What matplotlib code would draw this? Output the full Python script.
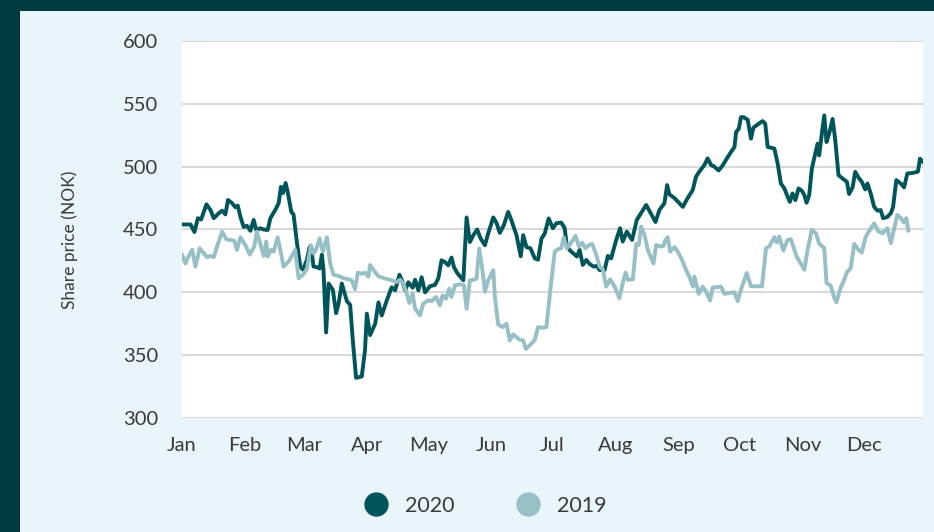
import matplotlib
matplotlib.use("Agg")
import matplotlib.pyplot as plt
from matplotlib.patches import Rectangle
from matplotlib.lines import Line2D

# day of year (0 = 1 Jan) and closing price
days_2020 = [0, 4.2, 6.1, 7.8, 9.4, 12.0, 14.0, 15.6, 18.1, 19.7, 21.3, 22.6, 24.6, 26.2, 27.4, 28.7,
             30.3, 31.9, 33.6, 35.2, 36.5, 38.5, 40.1, 42.1, 43.4, 45.8, 47.5, 48.6, 49.6, 50.9, 51.9,
             53.7, 54.8, 56.5, 58.1, 59.4, 61.4, 62.7, 63.8, 64.6, 66.3, 67.6, 68.7, 69.5, 70.8, 72.0,
             74.1, 75.7, 76.9, 78.5, 81.0, 82.6, 83.9, 85.5, 88.3, 89.9, 90.8, 92.4, 94.9, 96.5, 98.1,
             100.6, 103.0, 104.7, 106.8, 108.4, 109.6, 111.2, 113.3, 114.5, 116.1, 117.7, 119.4, 121.8,
             124.3, 125.9, 127.5, 129.2, 130.8, 132.4, 133.6, 135.2, 138.2, 139.8, 141.4, 143.1, 145.0,
             146.7, 148.8, 150.4, 152.9, 154.5, 156.1, 158.1, 160.2, 161.8, 164.3, 166.4, 167.6, 169.2,
             171.2, 173.3, 174.9, 176.6, 178.2, 180.1, 182.2, 183.9, 186.3, 188.0, 189.1, 191.2, 194.0,
             195.3, 196.9, 198.6, 200.2, 202.2, 203.8, 205.1, 207.6, 209.2, 210.8, 213.3, 215.2, 216.5,
             218.5, 221.1, 223.4, 225.5, 228.0, 229.9, 232.6, 234.5, 237.0, 238.3, 239.4, 241.9, 244.3,
             246.0, 248.4, 250.9, 252.5, 254.1, 256.6, 258.2, 259.9, 261.5, 263.6, 265.6, 267.6, 269.7,
             271.4, 272.2, 273.5, 274.6, 275.8, 277.9, 279.5, 280.7, 282.8, 285.2, 286.5, 287.7, 291.0,
             292.6, 294.2, 295.9, 297.5, 298.6, 299.9, 301.3, 302.9, 304.5, 305.7, 306.8, 308.1, 309.4,
             311.1, 312.2, 313.0, 314.3, 315.5, 316.6, 317.9, 319.6, 320.9, 322.5, 324.5, 326.6, 327.7,
             329.4, 330.7, 332.3, 333.9, 335.6, 336.7, 338.3, 340.0, 341.6, 343.2, 344.4, 346.5, 348.2,
             349.3, 350.9, 353.1, 354.7, 356.3, 358.8, 361.5, 362.5, 364.0]
price_2020 = [454, 454, 448, 459, 458, 470, 465.5, 459, 463, 465, 462, 473.5, 471, 467.7, 469, 460,
              452, 453, 449, 457.6, 449.6, 451, 450, 449.6, 459, 465.5, 471, 484, 479, 487, 480,
              464, 462, 439, 420.5, 418, 426, 436, 431, 420.5, 420, 419, 430, 418, 368, 407,
              402, 383.4, 391, 407, 393, 390, 362, 332, 333, 354, 383, 366, 375, 392, 381.6,
              393.6, 404, 401.6, 414, 408, 401.6, 408, 403.7, 410, 401.6, 412, 400, 404.8,
              406, 411, 425.5, 424, 421.5, 427.7, 420, 415.4, 409.6, 459.6, 440, 445.5, 450,
              442.8, 437.5, 446.8, 459.6, 455.3, 447.3, 453.5, 464, 457.4, 445.5, 428.7, 445.5, 436,
              435, 427, 426, 442.8, 446.8, 458.8, 451, 455, 455.5, 451, 436, 432.4, 428.5,
              433.8, 421.8, 425.8, 422.6, 420.5, 421, 417.8, 417.8, 429, 427, 441.7, 451, 440.4,
              448.3, 441.7, 457.6, 463, 469.5, 464, 456, 465.5, 471, 485.4, 478, 475, 471,
              468, 475, 481.5, 492, 496, 501.3, 506.6, 501.3, 500, 497, 501, 506.4, 511.7,
              515.7, 527.6, 530.2, 539.4, 539.4, 537.3, 522.3, 531, 533.6, 536.3, 534.2, 515.7, 514.4,
              502.5, 486.6, 482.7, 476, 472, 478.7, 473.4, 482.7, 480.8, 477.4, 471.3, 477.4, 498.5,
              510.4, 518.3, 509, 526.2, 540.8, 519.6, 526.2, 538, 521, 493.2, 490.6, 488, 478.2,
              483.5, 495.9, 491.4, 488, 481.9, 486.6, 478.7, 468, 465, 465.5, 459, 460, 463,
              468, 489.3, 486.6, 483.5, 494.6, 495, 496, 506.4, 503.8]

days_2019 = [0, 1.7, 3.3, 5.0, 6.6, 8.7, 10.7, 12.3, 14.0, 15.6, 17.2, 19.7, 21.8, 23.8, 25.7, 27.0,
             28.7, 31.1, 33.3, 35.5, 36.8, 38.8, 40.1, 41.4, 42.1, 43.7, 45.0, 47.0, 48.3, 49.9, 52.4,
             55.6, 57.3, 59.4, 61.4, 63.3, 64.6, 65.9, 67.6, 69.2, 71.2, 72.8, 74.4, 76.9, 79.3, 81.8,
             83.4, 85.0, 86.4, 88.3, 89.9, 91.6, 92.4, 94.9, 96.5, 99.8, 103.0, 105.5, 107.1, 108.7,
             110.4, 111.7, 113.3, 114.5, 116.9, 118.5, 121.0, 122.6, 124.8, 126.7, 128.0, 129.7, 131.3,
             132.4, 134.1, 136.5, 138.5, 139.8, 141.4, 143.4, 144.7, 146.0, 147.6, 148.8, 150.4, 152.9,
             153.7, 155.3, 157.4, 159.4, 161.0, 162.7, 164.3, 165.9, 167.6, 168.9, 170.8, 173.3, 174.9,
             177.0, 179.0, 180.8, 183.1, 184.7, 186.3, 187.5, 189.1, 191.2, 193.3, 195.0, 196.6, 198.2,
             199.9, 201.5, 203.5, 205.1, 206.7, 208.4, 210.3, 212.5, 214.9, 216.5, 217.9, 219.0, 221.5,
             223.1, 224.4, 225.5, 227.2, 228.8, 231.6, 232.9, 234.9, 236.5, 237.5, 238.6, 239.8, 241.9,
             243.5, 245.6, 247.6, 249.2, 250.9, 251.7, 253.8, 255.8, 257.4, 259.4, 260.7, 262.6, 264.8,
             266.4, 268.8, 271.4, 273.0, 274.6, 277.4, 279.5, 282.0, 284.9, 286.9, 288.5, 291.0, 292.1,
             293.4, 295.4, 297.5, 299.1, 300.3, 301.9, 304.0, 305.7, 307.3, 309.4, 311.4, 313.0, 315.5,
             316.6, 318.7, 320.4, 321.5, 323.2, 325.3, 326.6, 328.5, 330.2, 332.3, 333.9, 335.9, 337.9,
             340.0, 342.1, 344.1, 346.5, 348.2, 349.3, 351.4, 353.1, 354.7, 355.8, 356.8]
price_2019 = [430, 423, 429, 433.8, 420.5, 435, 431, 428, 429, 428, 436.4, 448.3, 442.2, 441.7, 441, 433.8,
              443.8, 437.7, 430, 436.4, 448.3, 436.4, 429, 440.4, 428.5, 433.8, 432.4, 443.8, 433.8, 420.5, 424.5,
              433.8, 411.2, 413.9, 419, 437.7, 431, 434, 443, 432.4, 443.8, 423, 414, 413, 411.2, 410.4,
              409.4, 402.5, 415.7, 414.7, 415.7, 412.5, 421.8, 416, 412.8, 411, 409.6, 408.2, 410, 407,
              399, 391.5, 399, 387, 381.6, 391, 393.6, 393, 396.3, 389.6, 397.6, 395, 403,
              396.3, 405.6, 406.4, 405.6, 387, 409.6, 410, 411, 434.8, 417.5, 400.3, 409.6, 417.5,
              396.3, 374.5, 372.3, 375, 361.7, 366.5, 364.3, 362.2, 361.7, 355, 357.7, 362.2, 372.3,
              371.8, 372.3, 400, 432.4, 434.3, 435, 443.8, 435, 439.6, 445, 436.4, 439.6, 435,
              437.7, 438.5, 429.8, 420.5, 418.4, 404.6, 410.4, 404.6, 395.3, 407.3, 415.7, 410, 410.4,
              438.5, 437.7, 452.3, 445.7, 433.8, 423, 437.7, 436.4, 437, 441.7, 443.8, 432.4, 436,
              432.4, 425.8, 417.8, 412.5, 404.6, 412.5, 398.8, 404.6, 400.6, 393.5, 404, 404, 404.6,
              398.8, 399.5, 400, 393, 402.2, 415.4, 404.8, 404.8, 404.8, 435.2, 436.5, 443.9, 439.6,
              444.4, 433.3, 441.8, 442.3, 436.5, 428.6, 422.8, 418, 433.8, 449.7, 447, 438.6, 435.2,
              407.4, 405.3, 395.6, 392.1, 402.2, 410, 415.9, 419.3, 438.6, 433.8, 431.7, 444.4, 449.7,
              455, 448.4, 447, 451, 439.1, 447, 461.6, 459, 455.5, 459, 449.2]

months = ["Jan", "Feb", "Mar", "Apr", "May", "Jun", "Jul", "Aug", "Sep", "Oct", "Nov", "Dec"]
month_starts = [0, 31, 60, 91, 121, 152, 182, 213, 244, 274, 305, 335]

dark = "#00555a"
light = "#97bfc6"
txt = "#3a3a3a"

plt.rcParams["font.family"] = ["Lato", "DejaVu Sans"]

W, H = 934, 532
fig = plt.figure(figsize=(W / 100, H / 100), dpi=100, facecolor="#003b40")
fig.patches.append(Rectangle((20 / W, 0), 1 - 20 / W, 1 - 11 / H, transform=fig.transFigure,
                             facecolor="#e8f5fa", edgecolor="none", zorder=-5))

ax = fig.add_axes([182 / W, 114 / H, 741 / W, 377 / H])
ax.set_zorder(1)
ax.set_facecolor("white")
ax.plot(days_2020, price_2020, color=dark, lw=2.8, solid_joinstyle="round", zorder=3)
ax.plot(days_2019, price_2019, color=light, lw=2.8, solid_joinstyle="round", zorder=3)

ax.set_xlim(0, 364)
ax.set_ylim(300, 600)
ax.set_yticks(range(300, 601, 50))
ax.set_xticks(month_starts)
ax.set_xticklabels(months)
ax.grid(axis="y", color="#d9d9d9", lw=1.5)
ax.set_axisbelow(True)
for s in ax.spines.values():
    s.set_visible(False)
ax.tick_params(axis="both", length=0, labelsize=14.5, labelcolor=txt)
ax.tick_params(axis="y", pad=17)
ax.tick_params(axis="x", pad=14)

fig.text(70 / W, 1 - 240 / H, "Share price (NOK)", rotation=90, ha="center", va="center",
         fontsize=12.5, color=txt)

handles = [Line2D([], [], ls="none", marker="o", ms=16.5, color=dark),
           Line2D([], [], ls="none", marker="o", ms=16.5, color=light)]
fig.legend(handles, ["2020", "2019"], loc="center", bbox_to_anchor=(486 / W, 1 - 506 / H),
           ncol=2, frameon=False, fontsize=15.5, handlelength=1.0, handletextpad=0.85,
           columnspacing=2.9, labelcolor=txt)

fig.savefig("out.png", dpi=100, facecolor=fig.get_facecolor())
